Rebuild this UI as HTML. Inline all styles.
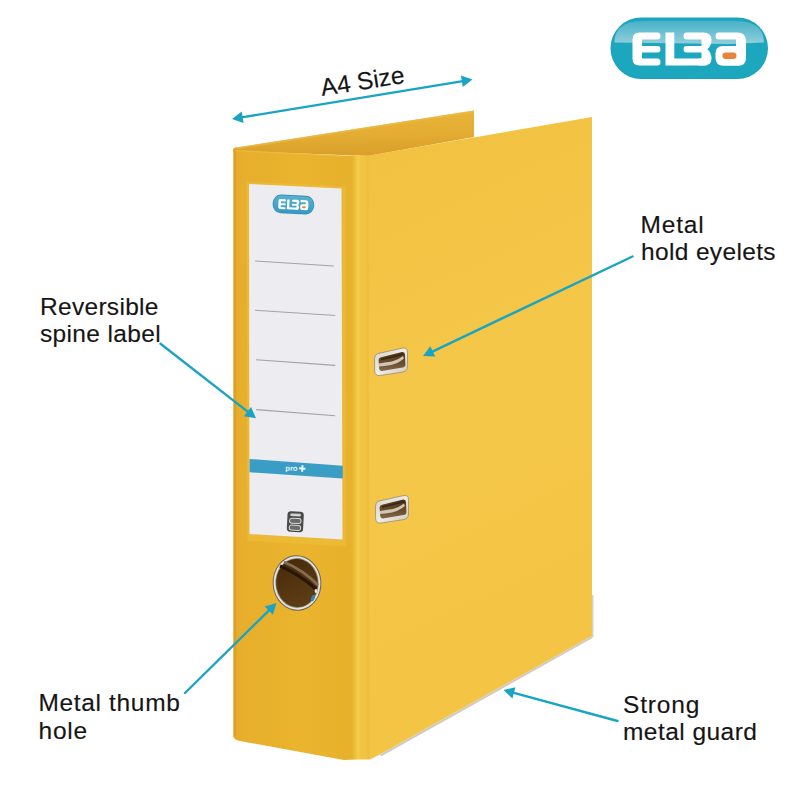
<!DOCTYPE html>
<html>
<head>
<meta charset="utf-8">
<style>
html,body{margin:0;padding:0;background:#fff;}
body{width:800px;height:787px;overflow:hidden;position:relative;font-family:"Liberation Sans",sans-serif;}
svg{position:absolute;left:0;top:0;}
.t{font-family:"Liberation Sans",sans-serif;font-size:24.5px;fill:#151515;stroke:#151515;stroke-width:0.15px;}
</style>
</head>
<body>
<svg width="800" height="787" viewBox="0 0 800 787">
<defs>
  <linearGradient id="topface" x1="0" y1="0" x2="0.12" y2="1">
    <stop offset="0" stop-color="#EAB63C"/>
    <stop offset="0.6" stop-color="#E3AC32"/>
    <stop offset="1" stop-color="#D9A02A"/>
  </linearGradient>
  <linearGradient id="logos" x1="0" y1="0" x2="0" y2="1">
    <stop offset="0" stop-color="#5AB0D0"/>
    <stop offset="0.5" stop-color="#48A6CA"/>
    <stop offset="1" stop-color="#3898C0"/>
  </linearGradient>
  <linearGradient id="spineg" gradientUnits="userSpaceOnUse" x1="234" y1="0" x2="370" y2="0">
    <stop offset="0.0" stop-color="#DDA428"/>
    <stop offset="0.0221" stop-color="#E6AE2C"/>
    <stop offset="0.4853" stop-color="#EAB42D"/>
    <stop offset="0.8015" stop-color="#E7B12C"/>
    <stop offset="0.8676" stop-color="#E7B22E"/>
    <stop offset="0.8934" stop-color="#F0C03C"/>
    <stop offset="0.9118" stop-color="#F6CB4E"/>
    <stop offset="0.9301" stop-color="#F3C542"/>
    <stop offset="0.9706" stop-color="#F1C240"/>
    <stop offset="0.9853" stop-color="#EDBE3E"/>
    <stop offset="1.0" stop-color="#F2C342"/>
  </linearGradient>
  <linearGradient id="frontg" gradientUnits="userSpaceOnUse" x1="370" y1="150" x2="590" y2="600">
    <stop offset="0" stop-color="#F2C242"/>
    <stop offset="0.5" stop-color="#F5C748"/>
    <stop offset="1" stop-color="#F4C545"/>
  </linearGradient>
  <linearGradient id="logog" x1="0" y1="0" x2="0" y2="1">
    <stop offset="0" stop-color="#4AB2C8"/>
    <stop offset="0.5" stop-color="#6CC0D2"/>
    <stop offset="1" stop-color="#92CFDC"/>
  </linearGradient>
  <linearGradient id="eyering" x1="0" y1="0" x2="1" y2="1">
    <stop offset="0" stop-color="#D8D2C8"/>
    <stop offset="0.5" stop-color="#EFECE6"/>
    <stop offset="1" stop-color="#CFC8BC"/>
  </linearGradient>
  <linearGradient id="eyein" x1="0" y1="0" x2="0" y2="1">
    <stop offset="0" stop-color="#4E3419"/>
    <stop offset="0.6" stop-color="#6A4E2E"/>
    <stop offset="1" stop-color="#85694A"/>
  </linearGradient>
  <linearGradient id="holein" x1="0" y1="0" x2="0.3" y2="1">
    <stop offset="0" stop-color="#46290A"/>
    <stop offset="0.5" stop-color="#513310"/>
    <stop offset="1" stop-color="#5C3C14"/>
  </linearGradient>
</defs>

<!-- back cover inner (top face) -->
<path d="M236,147.6 L474,110.5 L474,137 L368,156 L233,151 L233,150 Q233,147.9 236,147.6 Z" fill="url(#topface)"/>
<polygon points="236,147.6 474,110.5 474,112.5 237,149" fill="#EDBB45" opacity="0.7"/>

<!-- spine -->
<path d="M236,150 L340,155.6 L370,155.5 L370,759.5 L358,759.5 L344,760 L240,741 Q233,740 233,734 L233,152 Q233,150 236,150 Z" fill="url(#spineg)"/>
<line x1="233.5" y1="151" x2="233.5" y2="736" stroke="#E6BC66" stroke-width="1"/>
<line x1="235.2" y1="151" x2="235.2" y2="736" stroke="#DDA224" stroke-width="2" opacity="0.9"/>
<line x1="236" y1="150.6" x2="340" y2="156.1" stroke="#EEBE42" stroke-width="1.2" opacity="0.7"/>

<!-- front cover -->
<polygon points="368.5,155.5 592,117 592,636 380,754.5 370,759.5" fill="url(#frontg)"/>
<!-- metal guard -->
<polygon points="380,754.5 592,636 592,638.2 381,756.6" fill="#CFCBC3"/>
<polygon points="592,595 593.5,595 593.5,637 592,638" fill="#D6D2CA"/>

<!-- spine label -->
<polygon points="246.5,181.5 345.5,186.5 346,546.5 247.5,541" fill="#EEBC3A" opacity="0.75"/>
<polygon points="249,184 341.5,188.5 342.5,539.5 249.5,534" fill="#EDECF0"/>
<g stroke="#A3A2A6" stroke-width="1.1">
<line x1="255" y1="261" x2="334" y2="266"/>
<line x1="255" y1="310.2" x2="335.3" y2="315.5"/>
<line x1="256" y1="359.7" x2="335.3" y2="365.4"/>
<line x1="256.2" y1="409.6" x2="335.2" y2="415.7"/>
</g>
<polygon points="249.5,459 342.8,465.8 342.8,478.6 249.5,472.3" fill="#3A9DC6"/>
<text x="285.5" y="471" transform="rotate(3.5 295 468)" font-family="Liberation Sans" font-weight="bold" font-size="7.5" fill="#EAF4F8">pro</text>
<path d="M302.3,465.3 V471.7 M299.1,468.5 H305.5" stroke="#EAF4F8" stroke-width="2" transform="rotate(3.5 302.3 468.5)"/>
<!-- small label logo -->
<g transform="translate(273,194.2) rotate(2.6) scale(0.264,0.302)">
  <rect x="0" y="0" width="158" height="62" rx="31" fill="#3292B8"/>
  <rect x="3" y="3" width="152" height="56" rx="28" fill="url(#logos)"/>
  <g fill="#fff">
    <path d="M29,15 H47 Q50,15 50,18.5 Q50,22 47,22 H31.5 V28.5 H47 Q50,28.5 50,31.75 Q50,35 47,35 H31.5 V41 H47 Q50,41 50,44.5 Q50,48 47,48 H29 Q22,48 22,41 V22 Q22,15 29,15 Z"/>
    <path d="M55,15 H63.8 V41 H96 V48 H55 Z"/>
    <path d="M76,15 H93 Q101,15 101,22.5 Q101,28 97,31.75 Q101,35.5 101,41 Q101,48 93,48 H88 V41 H91 V35 H76 Q73,35 73,31.75 Q73,28.5 76,28.5 H91 V22 H76 Q73,22 73,18.5 Q73,15 76,15 Z"/>
    <path d="M108,15 H127 Q135.5,15 135.5,23.5 V40.5 Q135.5,48.2 128,48.2 H113 Q105,48.2 105,40.5 V36 Q105,28.5 112.5,28.5 H125.5 V22 H108 Q105,22 105,18.5 Q105,15 108,15 Z"/>
  </g>
  <rect x="112" y="35" width="14" height="6.5" rx="3.2" fill="#E8843A"/>
</g>
<!-- small icon -->
<g transform="rotate(3 295 521)">
  <rect x="287.2" y="511.5" width="16.3" height="20.5" rx="3.5" fill="#4a4a4a"/>
  <rect x="290" y="513.6" width="10.5" height="2.6" rx="1" fill="#d4d4d4"/>
  <rect x="289.6" y="518.4" width="11.4" height="5" rx="2.2" fill="#6a6a6a" stroke="#d8d8d8" stroke-width="1"/>
  <rect x="289.6" y="525.2" width="11.4" height="5" rx="2.2" fill="#6a6a6a" stroke="#d8d8d8" stroke-width="1"/>
</g>
<!-- thumb hole -->
<g transform="rotate(-4 297 583)">
<ellipse cx="297" cy="583" rx="24.4" ry="27.7" fill="#6E655C"/>
<ellipse cx="297" cy="583" rx="23.4" ry="26.7" fill="#E6E2DA"/>
<ellipse cx="297" cy="583" rx="21.6" ry="24.9" fill="#8E857A"/>
<ellipse cx="297" cy="583" rx="20.8" ry="24.1" fill="url(#holein)"/>
</g>
<path d="M280,566 Q299,574 316,589" stroke="#2A1606" stroke-width="3.5" fill="none"/>
<path d="M284,562 Q303,570 318,585" stroke="#846E52" stroke-width="2.8" fill="none"/>
<ellipse cx="316" cy="591" rx="1.4" ry="2" fill="#E8E4DC"/>
<ellipse cx="313" cy="598" rx="1.8" ry="3.3" fill="#2F86B0" transform="rotate(20 313 598)"/>

<!-- eyelets -->
<g id="eye1">
  <path d="M378,353.5 L403,348 Q407.5,347.5 407.5,352 L407.5,366.5 Q407.5,371 403,372 L380,375.5 Q375,376.2 374.6,371 L374.5,358.5 Q374.5,354.2 378,353.5 Z" fill="url(#eyering)" stroke="#8E8474" stroke-width="0.7"/>
  <path d="M381,357.2 L402,352 Q404.8,351.6 405,354.5 L405.4,364.5 Q405.5,367 402.5,367.6 L382,371 Q379.4,371.4 379.2,368.6 L378.6,360 Q378.6,357.8 381,357.2 Z" fill="url(#eyein)"/>
  <path d="M379,363.5 Q384,362.5 392,361.5 Q398,360 403,356 L404,358.5 Q398,363.5 391,365 Q384,366 379,366.5 Z" fill="#CFC6B6"/>
  <path d="M381,359.5 Q392,357 403.5,354" stroke="#3A2612" stroke-width="1.5" fill="none"/>
</g>
<use href="#eye1" transform="translate(1,147.5)"/>

<!-- arrows -->
<line x1="241.67" y1="117.41" x2="462.83" y2="81.09" stroke="#1AA4C4" stroke-width="2.4" stroke-linecap="round"/>
<polygon points="232.00,119.00 241.72,111.53 243.60,122.97" fill="#1AA4C4"/>
<polygon points="472.50,79.50 462.78,86.97 460.90,75.53" fill="#1AA4C4"/>
<line x1="160.50" y1="343.75" x2="248.27" y2="412.17" stroke="#1AA4C4" stroke-width="2.4" stroke-linecap="round"/>
<polygon points="256.00,418.20 243.92,416.13 251.05,406.99" fill="#1AA4C4"/>
<line x1="632.50" y1="256.50" x2="431.85" y2="351.80" stroke="#1AA4C4" stroke-width="2.4" stroke-linecap="round"/>
<polygon points="423.00,356.00 430.27,346.13 435.24,356.61" fill="#1AA4C4"/>
<line x1="185.00" y1="693.00" x2="269.51" y2="609.87" stroke="#1AA4C4" stroke-width="2.4" stroke-linecap="round"/>
<polygon points="276.50,603.00 272.87,614.71 264.73,606.44" fill="#1AA4C4"/>
<line x1="617.50" y1="721.00" x2="512.96" y2="692.57" stroke="#1AA4C4" stroke-width="2.4" stroke-linecap="round"/>
<polygon points="503.50,690.00 515.44,687.24 512.40,698.43" fill="#1AA4C4"/>

<!-- texts -->
<text class="t" x="640.5" y="232.5" letter-spacing="0.8">Metal</text>
<text class="t" x="641" y="260" letter-spacing="0.35">hold eyelets</text>
<text class="t" x="40" y="314.5" letter-spacing="0.3">Reversible</text>
<text class="t" x="40" y="342.2" letter-spacing="0.35">spine label</text>
<text class="t" x="38.5" y="711" letter-spacing="0.65">Metal thumb</text>
<text class="t" x="38.5" y="738.6" letter-spacing="0.8">hole</text>
<text class="t" x="623" y="713" letter-spacing="0.85">Strong</text>
<text class="t" x="623" y="740.3" letter-spacing="0.45">metal guard</text>
<text class="t" transform="translate(322,96) rotate(-9)">A4 Size</text>

<!-- ELBA logo -->
<g id="elba" transform="translate(610.5,17.5)">
  <rect x="0" y="0" width="157.5" height="61.5" rx="30.75" fill="#1AA2BB"/>
  <rect x="1" y="1" width="155.5" height="59.5" rx="29.75" fill="#1CA7BF"/>
  <path d="M4,25 Q4,4 32,3.5 H126 Q153,4 153.5,25 L120,26.5 Z" fill="url(#logog)"/>
  <g fill="#fff">
    <path d="M29,15 H47 Q50,15 50,18.5 Q50,22 47,22 H31.5 V28.5 H47 Q50,28.5 50,31.75 Q50,35 47,35 H31.5 V41 H47 Q50,41 50,44.5 Q50,48 47,48 H29 Q22,48 22,41 V22 Q22,15 29,15 Z"/>
    <path d="M55,15 H63.8 V41 H96 V48 H55 Z"/>
    <path d="M76,15 H93 Q101,15 101,22.5 Q101,28 97,31.75 Q101,35.5 101,41 Q101,48 93,48 H88 V41 H91 V35 H76 Q73,35 73,31.75 Q73,28.5 76,28.5 H91 V22 H76 Q73,22 73,18.5 Q73,15 76,15 Z"/>
    <path d="M108,15 H127 Q135.5,15 135.5,23.5 V40.5 Q135.5,48.2 128,48.2 H113 Q105,48.2 105,40.5 V36 Q105,28.5 112.5,28.5 H125.5 V22 H108 Q105,22 105,18.5 Q105,15 108,15 Z"/>
  </g>
  <rect x="112" y="35" width="14" height="6.5" rx="3.2" fill="#E8843A"/>
</g>
</svg>
</body>
</html>
